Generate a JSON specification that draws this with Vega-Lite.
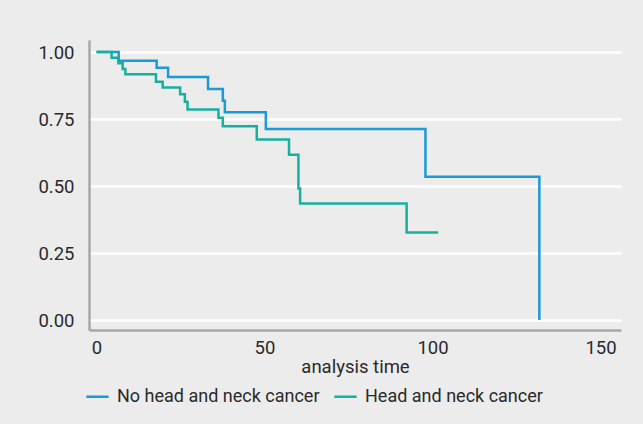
{
  "$schema": "https://vega.github.io/schema/vega-lite/v6.json",
  "width": 532,
  "height": 290,
  "autosize": {"type": "none"},
  "padding": {"left": 89, "top": 40, "right": 22, "bottom": 94},
  "background": "#ebeceb",
  "config": {
    "view": {"stroke": null},
    "font": "Roboto, sans-serif"
  },
  "data": {
    "values": [
      {"group": "No head and neck cancer", "time": 0, "surv": 1.0},
      {"group": "No head and neck cancer", "time": 6.6, "surv": 0.968},
      {"group": "No head and neck cancer", "time": 17.9, "surv": 0.941},
      {"group": "No head and neck cancer", "time": 21.3, "surv": 0.907},
      {"group": "No head and neck cancer", "time": 33.2, "surv": 0.862},
      {"group": "No head and neck cancer", "time": 37.6, "surv": 0.818},
      {"group": "No head and neck cancer", "time": 38.2, "surv": 0.775},
      {"group": "No head and neck cancer", "time": 50.4, "surv": 0.713},
      {"group": "No head and neck cancer", "time": 97.9, "surv": 0.535},
      {"group": "No head and neck cancer", "time": 131.8, "surv": 0.0},
      {"group": "Head and neck cancer", "time": 0, "surv": 1.0},
      {"group": "Head and neck cancer", "time": 4.5, "surv": 0.979},
      {"group": "Head and neck cancer", "time": 6.5, "surv": 0.958},
      {"group": "Head and neck cancer", "time": 7.8, "surv": 0.937},
      {"group": "Head and neck cancer", "time": 8.6, "surv": 0.917},
      {"group": "Head and neck cancer", "time": 17.7, "surv": 0.889},
      {"group": "Head and neck cancer", "time": 19.7, "surv": 0.868},
      {"group": "Head and neck cancer", "time": 24.9, "surv": 0.843},
      {"group": "Head and neck cancer", "time": 26.3, "surv": 0.815},
      {"group": "Head and neck cancer", "time": 27.1, "surv": 0.786},
      {"group": "Head and neck cancer", "time": 36.3, "surv": 0.755},
      {"group": "Head and neck cancer", "time": 37.6, "surv": 0.723},
      {"group": "Head and neck cancer", "time": 47.7, "surv": 0.674},
      {"group": "Head and neck cancer", "time": 57.3, "surv": 0.617},
      {"group": "Head and neck cancer", "time": 60.1, "surv": 0.491},
      {"group": "Head and neck cancer", "time": 60.6, "surv": 0.435},
      {"group": "Head and neck cancer", "time": 92.3, "surv": 0.327},
      {"group": "Head and neck cancer", "time": 101.7, "surv": 0.327}
    ]
  },
  "mark": {"type": "line", "interpolate": "step-after", "strokeWidth": 2.5, "clip": true},
  "encoding": {
    "x": {
      "field": "time",
      "type": "quantitative",
      "scale": {"domain": [-2.23, 156.1], "nice": false, "zero": false},
      "axis": {
        "title": "analysis time",
        "values": [0, 50, 100, 150],
        "grid": false,
        "ticks": false,
        "domainColor": "#a8a8a8",
        "domainWidth": 2.5,
        "labelFontSize": 18.5,
        "labelColor": "#2a2a2a",
        "labelPadding": 8,
        "labelFlush": false,
        "titleFontSize": 18.5,
        "titleFontWeight": "normal",
        "titleColor": "#2a2a2a",
        "titlePadding": 1
      }
    },
    "y": {
      "field": "surv",
      "type": "quantitative",
      "scale": {"domain": [-0.037, 1.045], "nice": false, "zero": false},
      "axis": {
        "title": null,
        "values": [0, 0.25, 0.5, 0.75, 1],
        "format": ".2f",
        "grid": true,
        "gridColor": "#ffffff",
        "gridWidth": 2.5,
        "ticks": false,
        "domainColor": "#a8a8a8",
        "domainWidth": 2.5,
        "labelFontSize": 18.5,
        "labelColor": "#2a2a2a",
        "labelPadding": 15,
        "labelFlush": false
      }
    },
    "color": {
      "field": "group",
      "type": "nominal",
      "sort": ["No head and neck cancer", "Head and neck cancer"],
      "scale": {
        "domain": ["No head and neck cancer", "Head and neck cancer"],
        "range": ["#1b9ad8", "#17b09e"]
      },
      "legend": {
        "title": null,
        "orient": "none",
        "direction": "horizontal",
        "legendX": -4,
        "legendY": 344,
        "symbolType": "stroke",
        "symbolSize": 500,
        "symbolStrokeWidth": 2.5,
        "labelFontSize": 18,
        "labelColor": "#2a2a2a",
        "labelLimit": 0,
        "labelOffset": 7,
        "columnPadding": 9
      }
    },
    "order": {"field": "group", "sort": "descending"}
  }
}
